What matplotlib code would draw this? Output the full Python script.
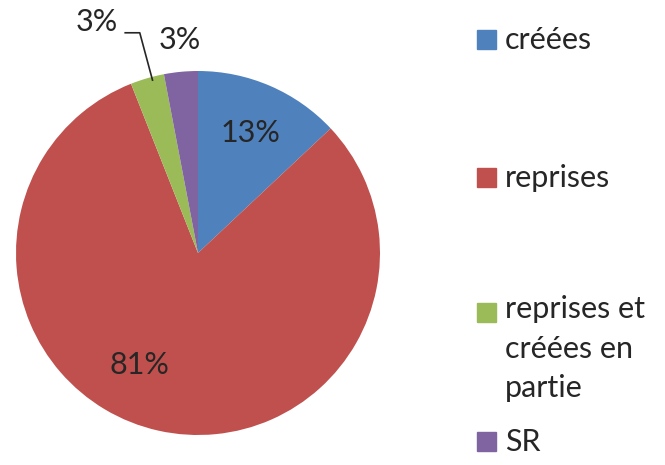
import matplotlib
matplotlib.use("Agg")
import matplotlib.pyplot as plt
from matplotlib.patches import Rectangle

labels = ["créées", "reprises", "reprises et\ncréées en\npartie", "SR"]
values = [13, 81, 3, 3]
colors = ["#4F81BD", "#C0504D", "#9BBB59", "#8064A2"]

plt.rcParams["font.family"] = ["Lato", "DejaVu Sans"]

W, H = 665, 465
fig = plt.figure(figsize=(W / 100, H / 100), dpi=100)

# pie axes: centre (198, 253) px, radius 182 px
cx, cy, r = 198, 253, 182
ax = fig.add_axes([(cx - r) / W, (H - cy - r) / H, 2 * r / W, 2 * r / H])
wedges, _ = ax.pie(values, colors=colors, startangle=90, counterclock=False,
                   radius=1.0, wedgeprops=dict(linewidth=0))
ax.set_xlim(-1, 1)
ax.set_ylim(-1, 1)
ax.set_aspect("equal")
ax.axis("off")

pct = [f"{v}%" for v in values]
fs = 22
tc = "#262626"
ax.text(0.29, 0.66, pct[0], ha="center", va="center", fontsize=fs, color=tc)
ax.text(-0.32, -0.615, pct[1], ha="center", va="center", fontsize=fs, color=tc)
ax.text(-0.555, 1.27, pct[2], ha="center", va="center", fontsize=fs, color=tc,
        clip_on=False)
ax.text(-0.10, 1.17, pct[3], ha="center", va="center", fontsize=fs, color=tc,
        clip_on=False)
# leader line for the green slice
ax.plot([-0.40, -0.32, -0.25], [1.21, 1.21, 0.95], color=tc, lw=1.2,
        clip_on=False)

# legend drawn manually
leg_y = [40, 178, 313, 442]
for lab, col, y in zip(labels, colors, leg_y):
    fig.patches.append(Rectangle((477 / W, 1 - (y + 9) / H), 19 / W, 19 / H,
                                 transform=fig.transFigure, color=col))
    fig.text(505 / W, 1 - (y - 18) / H if "\n" in lab else 1 - y / H, lab,
             ha="left", va="top" if "\n" in lab else "center",
             fontsize=fs, color=tc, linespacing=1.5)

fig.savefig("out.png", dpi=100)
